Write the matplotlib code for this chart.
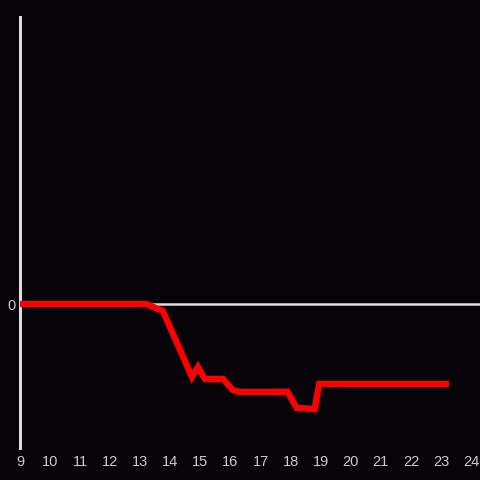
import matplotlib
matplotlib.use("Agg")
import matplotlib.pyplot as plt

# data
x_vals = [9.0, 13.2, 13.75, 14.72, 14.92, 15.15, 15.75, 16.08, 16.3, 17.9, 18.2, 18.8, 18.95, 23.27]
y_vals = [0.0, 0.0, -0.7, -7.3, -6.3, -7.5, -7.5, -8.6, -8.8, -8.8, -10.4, -10.5, -8.0, -8.0]
x_ticks = list(range(9, 25))
y_ticks = [0]

plt.rcParams["font.family"] = ["Liberation Sans", "DejaVu Sans"]

bg = "#060408"
fig = plt.figure(figsize=(4.8, 4.8), dpi=100, facecolor=bg)
ax = fig.add_axes([20/480, 32/480, 460/480, 431/480], facecolor=bg)

ax.plot(x_vals, y_vals, color="#ff0000", lw=4.6, solid_joinstyle="miter", solid_capstyle="butt", zorder=3)
ax.axhline(0, color="#dddddd", lw=1.8, zorder=2)

ax.set_xlim(9, 9 + 460/30.07)
ax.set_ylim(-14.4, 28.7)
ax.set_xticks(x_ticks)
ax.set_yticks(y_ticks)
ax.tick_params(axis="both", length=0, colors="#cccccc", labelsize=10.5)
ax.tick_params(axis="x", pad=5)
ax.tick_params(axis="y", pad=3)
for s in ["top", "right", "bottom"]:
    ax.spines[s].set_visible(False)
ax.spines["left"].set_color("#dddddd")
ax.spines["left"].set_linewidth(2.2)

fig.savefig("out.png", dpi=100, facecolor=bg)
